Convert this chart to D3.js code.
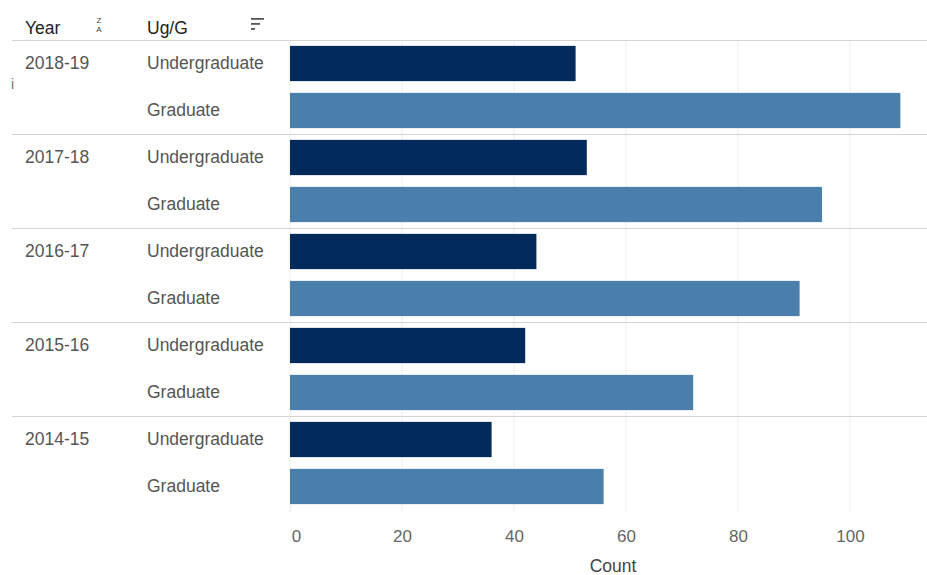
<!DOCTYPE html>
<html><head><meta charset="utf-8">
<script src="https://cdn.jsdelivr.net/npm/d3@7"></script>
<style>
body{margin:0;background:#fff;}
text{font-family:"Liberation Sans",Arial,sans-serif;}
</style></head>
<body>
<svg id="chart" width="927" height="575"></svg>
<script>
const years = ["2018-19","2017-18","2016-17","2015-16","2014-15"];
const levels = ["Undergraduate","Graduate"];
const undergraduate = [51,53,44,42,36];
const graduate = [109,95,91,72,56];
const xTicks = [0,20,40,60,80,100];

const svg = d3.select("#chart");
const x = d3.scaleLinear().domain([0,110]).range([290,906]);
const yYear = d3.scaleBand().domain(years).range([40,510]);
const yLevel = d3.scaleBand().domain(levels).range([0,yYear.bandwidth()]).paddingInner(0.25).paddingOuter(0.125);
const color = d3.scaleOrdinal().domain(levels).range(["#022a5a","#4a7eab"]);
const fs = 17.5;

// grid
svg.append("g").selectAll("line").data(xTicks).join("line")
  .attr("x1",d=>x(d)).attr("x2",d=>x(d)).attr("y1",40).attr("y2",512)
  .attr("stroke","#ececec").attr("stroke-width",1);

// header
svg.append("text").attr("x",25).attr("y",34).attr("font-size",fs).attr("fill","#222").text("Year");
svg.append("text").attr("x",99).attr("y",23).attr("font-size",8).attr("fill","#444").attr("text-anchor","middle").text("Z");
svg.append("text").attr("x",99).attr("y",32).attr("font-size",8).attr("fill","#444").attr("text-anchor","middle").text("A");
svg.append("text").attr("x",147).attr("y",34).attr("font-size",fs).attr("fill","#222").text("Ug/G");
const ic = svg.append("g").attr("fill","#555");
[[13,18],[9,23],[4,28]].forEach(([w,yy])=>ic.append("rect").attr("x",251).attr("y",yy).attr("width",w).attr("height",1.8));
svg.append("line").attr("x1",12).attr("x2",927).attr("y1",40.5).attr("y2",40.5).attr("stroke","#d4d4d4");

// stray glyph
svg.append("text").attr("x",11).attr("y",89).attr("font-size",14).attr("fill","#777").text("i");

// groups
const rows = [];
years.forEach((yr,i)=>{
  rows.push({year:yr,level:"Undergraduate",value:undergraduate[i]});
  rows.push({year:yr,level:"Graduate",value:graduate[i]});
});

years.forEach((yr,i)=>{
  if(i>0) svg.append("line").attr("x1",12).attr("x2",927)
    .attr("y1",Math.round(yYear(yr))+0.5).attr("y2",Math.round(yYear(yr))+0.5).attr("stroke","#d4d4d4");
  svg.append("text").attr("x",25).attr("y",yYear(yr)+yLevel("Undergraduate")+yLevel.bandwidth()/2+5)
    .attr("font-size",fs).attr("fill","#555").text(yr);
});

svg.append("g").selectAll("text").data(rows).join("text")
  .attr("x",147).attr("y",d=>yYear(d.year)+yLevel(d.level)+yLevel.bandwidth()/2+5)
  .attr("font-size",fs).attr("fill","#555").text(d=>d.level);

svg.append("g").selectAll("rect").data(rows).join("rect")
  .attr("x",x(0)).attr("y",d=>yYear(d.year)+yLevel(d.level))
  .attr("width",d=>x(d.value)-x(0)).attr("height",yLevel.bandwidth())
  .attr("fill",d=>color(d.level));

// axis
const ax = svg.append("g").attr("transform","translate(0,512)")
  .call(d3.axisBottom(x).tickValues(xTicks).tickSize(0).tickPadding(18));
ax.select(".domain").remove();
ax.selectAll("text").attr("font-size",17).attr("fill","#666").attr("font-family","Liberation Sans, Arial, sans-serif")
  .attr("dx",d=>d===0?6:0);
svg.append("text").attr("x",613).attr("y",572).attr("text-anchor","middle").attr("font-size",fs).attr("fill","#444").text("Count");
</script>
</body></html>
